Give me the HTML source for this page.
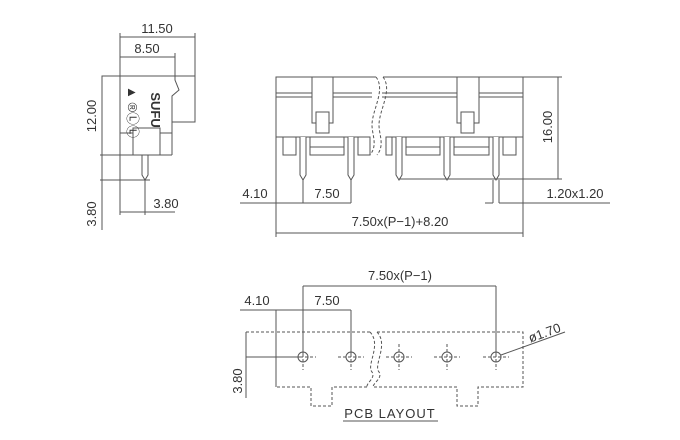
<!DOCTYPE html>
<html><head><meta charset="utf-8"><style>
body{margin:0;background:#fff}
svg{display:block}
text{font-family:"Liberation Sans",sans-serif;font-size:13px;fill:#333}
</style></head><body>
<svg width="680" height="440" viewBox="0 0 680 440" xmlns="http://www.w3.org/2000/svg">
<g stroke="#555" stroke-width="1" fill="none">
<!-- SIDE VIEW -->
<line x1="120" y1="37" x2="195" y2="37"/>
<line x1="120" y1="57" x2="175" y2="57"/>
<line x1="120" y1="33" x2="120" y2="76"/>
<line x1="195" y1="33" x2="195" y2="76"/>
<line x1="175" y1="53" x2="175" y2="76"/>
<rect x="102" y="76" width="18" height="79"/>
<polyline points="120,76 175,76 175,80 179,90 172,96 172,122 195,122 195,76 175,76"/>
<line x1="120" y1="155" x2="172" y2="155"/>
<line x1="172" y1="122" x2="172" y2="155"/>
<polyline points="120,133 133,133 133,128 160,128 160,133 172,133"/>
<line x1="133" y1="133" x2="133" y2="155"/>
<line x1="160" y1="133" x2="160" y2="155"/>
<polyline points="142,155 142,175 145,180 148,175 148,155"/>
<line x1="100" y1="180" x2="150" y2="180"/>
<line x1="100" y1="155" x2="102" y2="155"/>
<line x1="102" y1="155" x2="102" y2="230"/>
<line x1="120" y1="155" x2="120" y2="215"/>
<line x1="145" y1="180" x2="145" y2="215"/>
<line x1="120" y1="212" x2="175" y2="212"/>
<!-- FRONT VIEW -->
<polyline points="376,77 276,77 276,137 370,137"/>
<polyline points="383,77 523,77 523,137 386,137"/>
<line x1="276" y1="93" x2="372" y2="93"/><line x1="276" y1="97" x2="372" y2="97"/>
<line x1="382" y1="93" x2="523" y2="93"/><line x1="382" y1="97" x2="523" y2="97"/>
<path d="M376,77 C386,90 372,110 372,125 C372,135 378,145 370,155" stroke-dasharray="3,2"/>
<path d="M383,77 C393,90 379,110 379,125 C379,135 385,145 377,155" stroke-dasharray="3,2"/>
<rect x="312" y="77" width="21" height="46" fill="#fff"/>
<rect x="316" y="112" width="13" height="21" fill="#fff"/>
<rect x="457" y="77" width="22" height="46" fill="#fff"/>
<rect x="461" y="112" width="13" height="21" fill="#fff"/>
<rect x="283" y="137" width="13" height="18"/>
<rect x="310" y="137" width="34" height="18"/>
<line x1="310" y1="147" x2="344" y2="147"/>
<rect x="358" y="137" width="12" height="18"/>
<rect x="386" y="137" width="6" height="18"/>
<rect x="406" y="137" width="34" height="18"/>
<line x1="406" y1="147" x2="440" y2="147"/>
<rect x="454" y="137" width="35" height="18"/>
<line x1="454" y1="147" x2="489" y2="147"/>
<rect x="503" y="137" width="13" height="18"/>
<g fill="#fff">
<polyline points="300,137 300,175 303,180 306,175 306,137"/>
<polyline points="348,137 348,175 351,180 354,175 354,137"/>
<polyline points="396,137 396,175 399,180 402,175 402,137"/>
<polyline points="444,137 444,175 447,180 450,175 450,137"/>
<polyline points="493,137 493,175 496,180 499,175 499,137"/>
</g>
<line x1="523" y1="77" x2="562" y2="77"/>
<line x1="399" y1="179" x2="562" y2="179"/>
<line x1="558" y1="77" x2="558" y2="179"/>
<line x1="240" y1="203" x2="276" y2="203"/>
<line x1="276" y1="137" x2="276" y2="237"/>
<line x1="523" y1="137" x2="523" y2="237"/>
<line x1="303" y1="180" x2="303" y2="203"/>
<line x1="351" y1="180" x2="351" y2="203"/>
<line x1="276" y1="203" x2="351" y2="203"/>
<line x1="493" y1="180" x2="493" y2="203"/>
<line x1="499" y1="180" x2="499" y2="203"/>
<line x1="485" y1="203" x2="493" y2="203"/>
<line x1="499" y1="203" x2="610" y2="203"/>
<line x1="276" y1="233" x2="523" y2="233"/>
<!-- PCB -->
<line x1="303" y1="286" x2="496" y2="286"/>
<line x1="303" y1="286" x2="303" y2="357"/>
<line x1="496" y1="286" x2="496" y2="357"/>
<line x1="240" y1="310" x2="351" y2="310"/>
<line x1="351" y1="310" x2="351" y2="357"/>
<line x1="276" y1="310" x2="276" y2="387"/>
<line x1="246" y1="357" x2="303" y2="357"/>
<line x1="246" y1="332" x2="246" y2="398"/>
<g stroke-dasharray="3,2">
<line x1="246" y1="332" x2="276" y2="332"/>
<polyline points="370,332 276,332 276,387 311,387 311,406 332,406 332,387 367,387"/>
<polyline points="377,332 523,332 523,387 478,387 478,406 457,406 457,387 373,387"/>
<path d="M370,332 C382,345 366,365 372,372 C376,378 366,383 367,387"/>
<path d="M377,332 C389,345 373,365 379,372 C383,378 373,383 373,387"/>
<line x1="290" y1="357" x2="316" y2="357"/><line x1="303" y1="344" x2="303" y2="370"/>
<line x1="338" y1="357" x2="364" y2="357"/><line x1="351" y1="344" x2="351" y2="370"/>
<line x1="386" y1="357" x2="412" y2="357"/><line x1="399" y1="344" x2="399" y2="370"/>
<line x1="434" y1="357" x2="460" y2="357"/><line x1="447" y1="344" x2="447" y2="370"/>
<line x1="483" y1="357" x2="509" y2="357"/><line x1="496" y1="344" x2="496" y2="370"/>
</g>
<circle cx="303" cy="357" r="5"/><circle cx="351" cy="357" r="5"/>
<circle cx="399" cy="357" r="5"/><circle cx="447" cy="357" r="5"/><circle cx="496" cy="357" r="5"/>
<line x1="501" y1="355" x2="565" y2="332"/>
<line x1="343" y1="421" x2="438" y2="421"/>
</g>
<text x="157" y="33" text-anchor="middle">11.50</text>
<text x="147" y="53" text-anchor="middle">8.50</text>
<text transform="translate(96,116) rotate(-90)" text-anchor="middle">12.00</text>
<text transform="translate(96,214) rotate(-90)" text-anchor="middle">3.80</text>
<text x="166" y="208" text-anchor="middle">3.80</text>
<text transform="translate(128,112) rotate(90)" font-size="7" text-anchor="middle">▲ ®ⓁⓁ</text>
<text transform="translate(151,110) rotate(90)" font-size="12" font-weight="bold" text-anchor="middle">SUFU</text>
<text transform="translate(552,127) rotate(-90)" text-anchor="middle">16.00</text>
<text x="255" y="198" text-anchor="middle">4.10</text>
<text x="327" y="198" text-anchor="middle">7.50</text>
<text x="575" y="198" text-anchor="middle">1.20x1.20</text>
<text x="400" y="226" text-anchor="middle">7.50x(P−1)+8.20</text>
<text x="400" y="280" text-anchor="middle">7.50x(P−1)</text>
<text x="257" y="305" text-anchor="middle">4.10</text>
<text x="327" y="305" text-anchor="middle">7.50</text>
<text transform="translate(242,381) rotate(-90)" text-anchor="middle">3.80</text>
<text transform="translate(546,337) rotate(-20)" text-anchor="middle">ø1.70</text>
<text x="390" y="418" text-anchor="middle" letter-spacing="1">PCB LAYOUT</text>
</svg>
</body></html>
